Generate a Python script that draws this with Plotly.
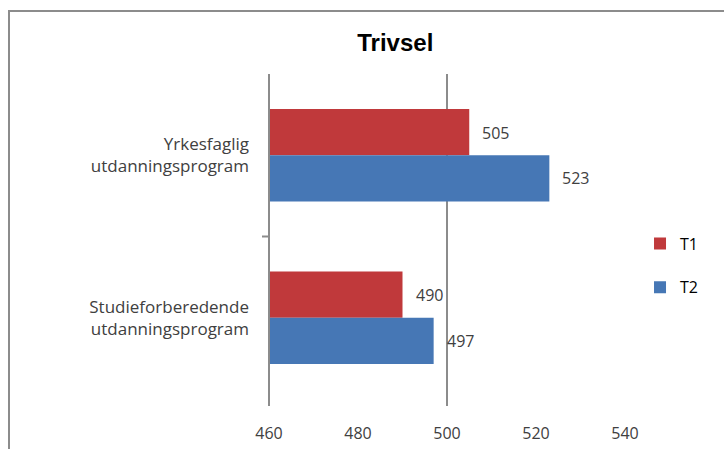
import plotly.graph_objects as go

# Data
categories = ["Yrkesfaglig<br>utdanningsprogram", "Studieforberedende<br>utdanningsprogram"]
t1_values = [505, 490]
t2_values = [523, 497]
series_names = ["T1", "T2"]
x_tick_values = [460, 480, 500, 520, 540]

RED = "#C0393B"
BLUE = "#4677B5"
TEXT = "#404040"
AXIS = "#8C8C8C"
FONT = "Open Sans"

W, H = 724, 449
L, R, T, B = 269, 99, 74, 50
PW, PH = W - L - R, H - T - B

fig = go.Figure()
for name, vals, color, grp in [(series_names[0], t1_values, RED, "g1"),
                               (series_names[1], t2_values, BLUE, "g2")]:
    fig.add_trace(go.Bar(
        y=categories, x=vals, orientation="h", name=name,
        marker=dict(color=color, line=dict(width=0)),
        legendgroup=grp,
        base=0,
    ))

# Value labels placed just beyond each bar end
bar_offsets = [-0.14, 0.14]
for vals, off in zip([t1_values, t2_values], bar_offsets):
    for i, v in enumerate(vals):
        fig.add_annotation(
            x=v, y=i + off, xref="x", yref="y",
            text=str(v), showarrow=False, xanchor="left", xshift=11,
            font=dict(family=FONT, size=16, color=TEXT),
        )

ext = 7 / PH
# Vertical axis line and single gridline at 500
fig.add_shape(type="line", xref="paper", yref="paper", x0=0, x1=0, y0=-ext, y1=1,
              line=dict(color=AXIS, width=2))
fig.add_shape(type="line", xref="x", yref="paper", x0=500, x1=500, y0=-ext, y1=1,
              line=dict(color=AXIS, width=2), layer="below")
# Category separator tick
fig.add_shape(type="line", xref="paper", yref="paper", x0=-7 / PW, x1=0, y0=0.5, y1=0.5,
              line=dict(color=AXIS, width=2))
# Chart frame
fig.add_shape(type="rect", xref="paper", yref="paper",
              x0=(9 - L) / PW, x1=2.0, y0=-2.0, y1=1 + (T - 11) / PH,
              line=dict(color=AXIS, width=2), fillcolor="rgba(0,0,0,0)", layer="below")

fig.update_layout(
    width=W, height=H,
    margin=dict(l=L, r=R, t=T, b=B, autoexpand=False),
    paper_bgcolor="white", plot_bgcolor="white",
    barmode="group", bargap=0.43, bargroupgap=0,
    title=dict(text="<b>Trivsel</b>", x=0.546, xanchor="center", y=0.905, yanchor="middle",
               font=dict(family="Liberation Sans", size=24, color="#000000")),
    legend=dict(xref="container", yref="container", x=0.884, y=1 - 265.5 / H,
                xanchor="left", yanchor="middle",
                font=dict(family=FONT, size=16, color="#000000"),
                traceorder="grouped", tracegroupgap=20, itemwidth=30,
                bgcolor="rgba(0,0,0,0)"),
    xaxis=dict(range=[460, 540], tickvals=x_tick_values, showgrid=False, zeroline=False,
               showline=False, ticks="", ticklabelstandoff=23,
               tickfont=dict(family=FONT, size=16, color=TEXT)),
    yaxis=dict(categoryorder="array", categoryarray=categories, autorange="reversed",
               showgrid=False, zeroline=False, showline=False, ticks="",
               ticklabelstandoff=19,
               tickfont=dict(family=FONT, size=17, color=TEXT)),
    showlegend=True,
)

fig.write_html("out.html")
